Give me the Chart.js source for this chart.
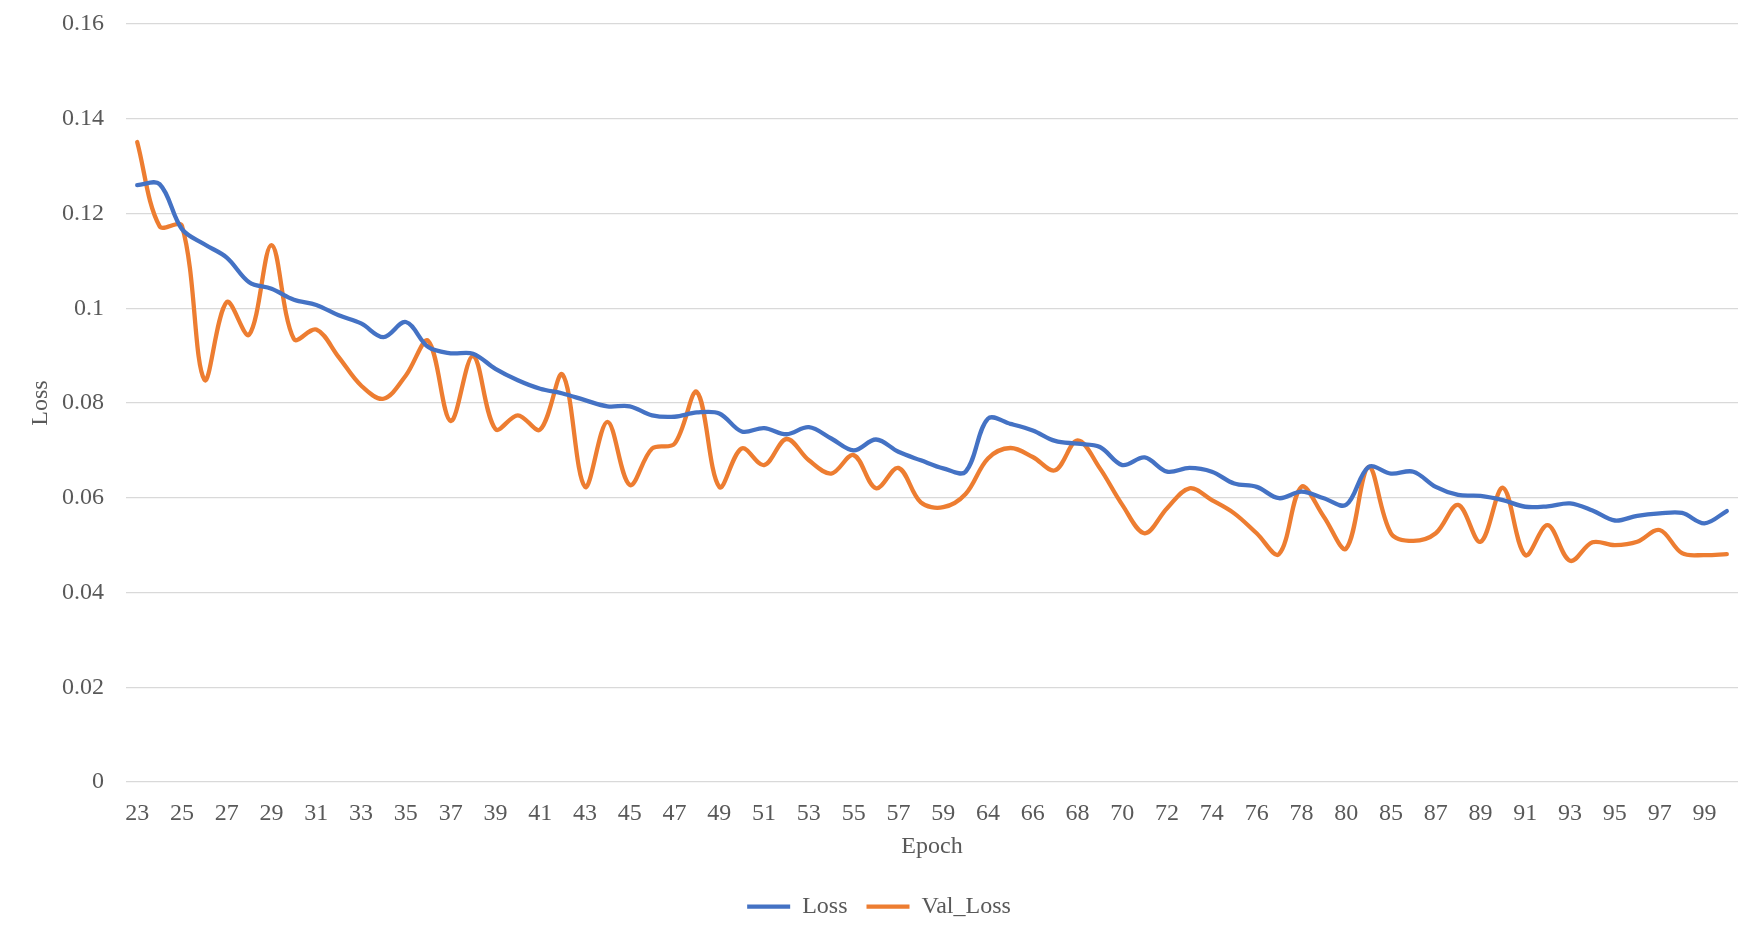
<!DOCTYPE html>
<html>
<head>
<meta charset="utf-8">
<title>Loss / Val_Loss</title>
<script src="https://cdn.jsdelivr.net/npm/chart.js@4.4.1/dist/chart.umd.min.js"></script>
<style>
    html, body { margin: 0; padding: 0; background: #ffffff; }
    #wrap { width: 1761px; height: 938px; position: relative; }
</style>
</head>
<body>
<div id="wrap"><canvas id="grafico"></canvas></div>
<script>
// epochs (two hidden categories between 59/64 and 80/85)
const epocas = [
    23, 24, 25, 26, 27, 28, 29, 30, 31, 32, 33, 34, 35, 36, 37, 38, 39, 40, 41, 42,
    43, 44, 45, 46, 47, 48, 49, 50, 51, 52, 53, 54, 55, 56, 57, 58, 59, 60,
    64, 65, 66, 67, 68, 69, 70, 71, 72, 73, 74, 75, 76, 77, 78, 79, 80, 81,
    85, 86, 87, 88, 89, 90, 91, 92, 93, 94, 95, 96, 97, 98, 99, 100
];

const loss = [
    0.1260, 0.1262, 0.1167, 0.1135, 0.1107, 0.1055, 0.1041, 0.1018, 0.1007, 0.0985,
    0.0968, 0.0939, 0.0971, 0.0918, 0.0905, 0.0904, 0.0872, 0.0848, 0.0830, 0.0820,
    0.0806, 0.0793, 0.0793, 0.0774, 0.0771, 0.0780, 0.0778, 0.0740, 0.0747, 0.0734,
    0.0749, 0.0725, 0.0700, 0.0723, 0.0697, 0.0679, 0.0662, 0.0655, 0.0767, 0.0756,
    0.0742, 0.0720, 0.0714, 0.0707, 0.0669, 0.0685, 0.0655, 0.0663, 0.0655, 0.0630,
    0.0623, 0.0599, 0.0613, 0.0599, 0.0585, 0.0665, 0.0651, 0.0655, 0.0623, 0.0606,
    0.0604, 0.0595, 0.0581, 0.0582, 0.0588, 0.0573, 0.0552, 0.0562, 0.0567, 0.0568,
    0.0546, 0.0572
];

const valLoss = [
    0.1351, 0.1173, 0.1174, 0.0849, 0.1013, 0.0944, 0.1133, 0.0935, 0.0955, 0.0897,
    0.0837, 0.0809, 0.0858, 0.0931, 0.0762, 0.0899, 0.0745, 0.0774, 0.0744, 0.0860,
    0.0623, 0.0760, 0.0627, 0.0704, 0.0714, 0.0823, 0.0623, 0.0704, 0.0669, 0.0724,
    0.0679, 0.0651, 0.0690, 0.0620, 0.0663, 0.0590, 0.0580, 0.0608, 0.0683, 0.0705,
    0.0686, 0.0658, 0.0721, 0.0662, 0.0585, 0.0525, 0.0578, 0.0620, 0.0595, 0.0567,
    0.0525, 0.0481, 0.0623, 0.0560, 0.0493, 0.0665, 0.0525, 0.0509, 0.0525, 0.0585,
    0.0507, 0.0621, 0.0479, 0.0542, 0.0467, 0.0506, 0.0500, 0.0507, 0.0532, 0.0483,
    0.0479, 0.0481
];

const yTickLabels = ["0", "0.02", "0.04", "0.06", "0.08", "0.1", "0.12", "0.14", "0.16"];

const fuente = "'Liberation Serif', 'Times New Roman', serif";
const gris = '#595959';

const canvas = document.getElementById('grafico');

new Chart(canvas, {
    type: 'line',
    data: {
        labels: epocas.map(String),
        datasets: [{
            label: 'Loss',
            data: loss,
            borderColor: '#4472C4',
            backgroundColor: '#4472C4',
            borderWidth: 4.3,
            borderCapStyle: 'round',
            borderJoinStyle: 'round',
            pointRadius: 0,
            fill: false,
            tension: 0.35
        }, {
            label: 'Val_Loss',
            data: valLoss,
            borderColor: '#ED7D31',
            backgroundColor: '#ED7D31',
            borderWidth: 4.3,
            borderCapStyle: 'round',
            borderJoinStyle: 'round',
            pointRadius: 0,
            fill: false,
            tension: 0.35
        }]
    },
    options: {
        responsive: true,
        maintainAspectRatio: false,
        animation: false,
        devicePixelRatio: 1,
        layout: {
            padding: { top: 24, right: 23, bottom: 9.4, left: 20 }
        },
        plugins: {
            legend: {
                position: 'bottom',
                labels: {
                    usePointStyle: true,
                    pointStyle: 'line',
                    pointStyleWidth: 43,
                    padding: 19,
                    color: gris,
                    font: { family: fuente, size: 24 }
                }
            },
            tooltip: { enabled: false }
        },
        scales: {
            x: {
                offset: true,
                grid: { display: false },
                border: { display: false },
                afterFit: scale => { scale.height = 93.6; },
                ticks: {
                    autoSkip: false,
                    maxRotation: 0,
                    padding: 9,
                    color: gris,
                    font: { family: fuente, size: 24 },
                    callback: (val, i) => i % 2 === 0 ? String(epocas[i]) : ''
                },
                title: {
                    display: true,
                    text: 'Epoch',
                    color: gris,
                    font: { family: fuente, size: 24 },
                    padding: { top: 0, bottom: 14.6 }
                }
            },
            y: {
                min: 0,
                max: 0.16,
                afterFit: scale => {
                    scale.width = 106;
                    scale.paddingTop = 0;
                    scale.paddingBottom = 0;
                },
                grid: {
                    color: '#d9d9d9',
                    lineWidth: 1.3,
                    drawTicks: false
                },
                border: { display: false },
                ticks: {
                    stepSize: 0.02,
                    padding: 22,
                    color: gris,
                    font: { family: fuente, size: 24 },
                    callback: (val, i) => yTickLabels[i]
                },
                title: {
                    display: true,
                    text: 'Loss',
                    color: gris,
                    font: { family: fuente, size: 24 },
                    padding: { top: 6.6, bottom: 0 }
                }
            }
        }
    }
});
</script>
</body>
</html>
